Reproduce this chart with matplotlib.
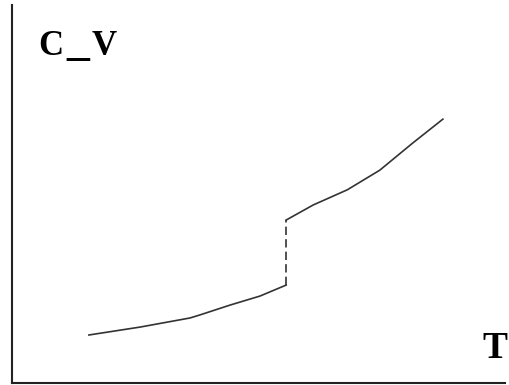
import matplotlib
matplotlib.use("Agg")
import matplotlib.pyplot as plt

# Sketch data (arbitrary units)
T_low = [1.56, 2.60, 3.61, 3.81, 4.42, 5.03, 5.56]
Cv_low = [1.27, 1.48, 1.72, 1.80, 2.06, 2.30, 2.59]
T_high = [5.56, 6.11, 6.80, 7.46, 8.13, 8.74]
Cv_high = [4.31, 4.71, 5.11, 5.63, 6.35, 6.98]
T_jump = [5.56, 5.56]
Cv_jump = [2.59, 4.31]

W, H = 509, 385
fig = plt.figure(figsize=(W / 100, H / 100), dpi=100)
ax = fig.add_axes([12 / W, 2 / H, (505 - 12) / W, (383 - 5) / H])
ax.set_xlim(0, 10)
ax.set_ylim(0, 10)
for s in ("top", "right"):
    ax.spines[s].set_visible(False)
for s in ("left", "bottom"):
    ax.spines[s].set_linewidth(1.5)
    ax.spines[s].set_color("#222222")
ax.set_xticks([])
ax.set_yticks([])

lc = "#333333"
ax.plot(T_low, Cv_low, color=lc, lw=1.2)
ax.plot(T_high, Cv_high, color=lc, lw=1.2)
ax.plot(T_jump, Cv_jump, color=lc, lw=1.2, linestyle=(0, (5, 2.5)))

kw = dict(family="Liberation Serif", weight="bold", va="baseline")
fig.text(38 / W, 1 - 55 / H, "C", fontsize=25, ha="left", **kw)
fig.text(77.5 / W, 1 - 55 / H, "_", fontsize=33, ha="center", **kw)
fig.text(104.5 / W, 1 - 55 / H, "V", fontsize=25, ha="center", **kw)
fig.text(495 / W, 1 - 358 / H, "T", fontsize=27, ha="center", **kw)

fig.savefig("out.png", dpi=100)
